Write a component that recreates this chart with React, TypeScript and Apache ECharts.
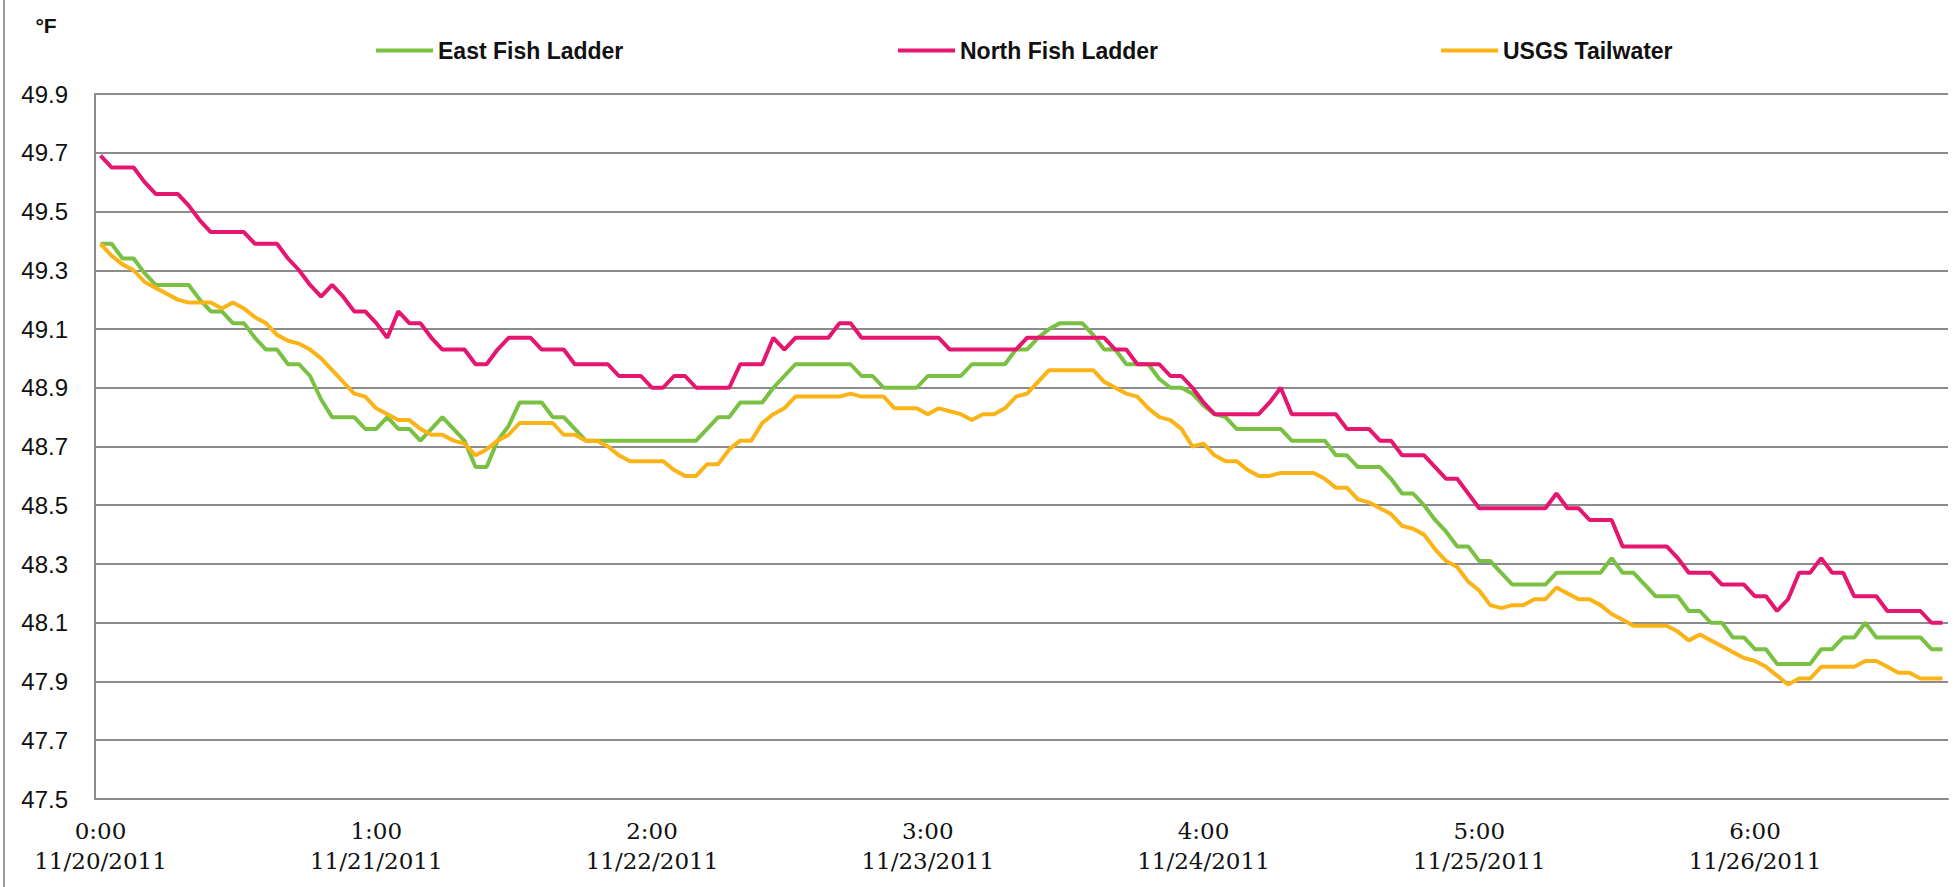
import React, { useEffect, useRef } from "react";
import * as echarts from "echarts";

const seriesNames = ["East Fish Ladder", "North Fish Ladder", "USGS Tailwater"];

const eastFishLadder = [
  49.39, 49.39, 49.34, 49.34, 49.29, 49.25, 49.25, 49.25, 49.25, 49.20,
  49.16, 49.16, 49.12, 49.12, 49.07, 49.03, 49.03, 48.98, 48.98, 48.94,
  48.86, 48.80, 48.80, 48.80, 48.76, 48.76, 48.80, 48.76, 48.76, 48.72,
  48.76, 48.80, 48.76, 48.72, 48.63, 48.63, 48.72, 48.77, 48.85, 48.85,
  48.85, 48.80, 48.80, 48.76, 48.72, 48.72, 48.72, 48.72, 48.72, 48.72,
  48.72, 48.72, 48.72, 48.72, 48.72, 48.76, 48.80, 48.80, 48.85, 48.85,
  48.85, 48.90, 48.94, 48.98, 48.98, 48.98, 48.98, 48.98, 48.98, 48.94,
  48.94, 48.90, 48.90, 48.90, 48.90, 48.94, 48.94, 48.94, 48.94, 48.98,
  48.98, 48.98, 48.98, 49.03, 49.03, 49.07, 49.10, 49.12, 49.12, 49.12,
  49.08, 49.03, 49.03, 48.98, 48.98, 48.98, 48.93, 48.90, 48.90, 48.88,
  48.84, 48.81, 48.80, 48.76, 48.76, 48.76, 48.76, 48.76, 48.72, 48.72,
  48.72, 48.72, 48.67, 48.67, 48.63, 48.63, 48.63, 48.59, 48.54, 48.54,
  48.50, 48.45, 48.41, 48.36, 48.36, 48.31, 48.31, 48.27, 48.23, 48.23,
  48.23, 48.23, 48.27, 48.27, 48.27, 48.27, 48.27, 48.32, 48.27, 48.27,
  48.23, 48.19, 48.19, 48.19, 48.14, 48.14, 48.10, 48.10, 48.05, 48.05,
  48.01, 48.01, 47.96, 47.96, 47.96, 47.96, 48.01, 48.01, 48.05, 48.05,
  48.10, 48.05, 48.05, 48.05, 48.05, 48.05, 48.01, 48.01,
];

const northFishLadder = [
  49.69, 49.65, 49.65, 49.65, 49.60, 49.56, 49.56, 49.56, 49.52, 49.47,
  49.43, 49.43, 49.43, 49.43, 49.39, 49.39, 49.39, 49.34, 49.30, 49.25,
  49.21, 49.25, 49.21, 49.16, 49.16, 49.12, 49.07, 49.16, 49.12, 49.12,
  49.07, 49.03, 49.03, 49.03, 48.98, 48.98, 49.03, 49.07, 49.07, 49.07,
  49.03, 49.03, 49.03, 48.98, 48.98, 48.98, 48.98, 48.94, 48.94, 48.94,
  48.90, 48.90, 48.94, 48.94, 48.90, 48.90, 48.90, 48.90, 48.98, 48.98,
  48.98, 49.07, 49.03, 49.07, 49.07, 49.07, 49.07, 49.12, 49.12, 49.07,
  49.07, 49.07, 49.07, 49.07, 49.07, 49.07, 49.07, 49.03, 49.03, 49.03,
  49.03, 49.03, 49.03, 49.03, 49.07, 49.07, 49.07, 49.07, 49.07, 49.07,
  49.07, 49.07, 49.03, 49.03, 48.98, 48.98, 48.98, 48.94, 48.94, 48.90,
  48.85, 48.81, 48.81, 48.81, 48.81, 48.81, 48.85, 48.90, 48.81, 48.81,
  48.81, 48.81, 48.81, 48.76, 48.76, 48.76, 48.72, 48.72, 48.67, 48.67,
  48.67, 48.63, 48.59, 48.59, 48.54, 48.49, 48.49, 48.49, 48.49, 48.49,
  48.49, 48.49, 48.54, 48.49, 48.49, 48.45, 48.45, 48.45, 48.36, 48.36,
  48.36, 48.36, 48.36, 48.32, 48.27, 48.27, 48.27, 48.23, 48.23, 48.23,
  48.19, 48.19, 48.14, 48.18, 48.27, 48.27, 48.32, 48.27, 48.27, 48.19,
  48.19, 48.19, 48.14, 48.14, 48.14, 48.14, 48.10, 48.10,
];

const usgsTailwater = [
  49.39, 49.35, 49.32, 49.30, 49.26, 49.24, 49.22, 49.20, 49.19, 49.19,
  49.19, 49.17, 49.19, 49.17, 49.14, 49.12, 49.08, 49.06, 49.05, 49.03,
  49.00, 48.96, 48.92, 48.88, 48.87, 48.83, 48.81, 48.79, 48.79, 48.76,
  48.74, 48.74, 48.72, 48.71, 48.67, 48.69, 48.72, 48.74, 48.78, 48.78,
  48.78, 48.78, 48.74, 48.74, 48.72, 48.72, 48.70, 48.67, 48.65, 48.65,
  48.65, 48.65, 48.62, 48.60, 48.60, 48.64, 48.64, 48.69, 48.72, 48.72,
  48.78, 48.81, 48.83, 48.87, 48.87, 48.87, 48.87, 48.87, 48.88, 48.87,
  48.87, 48.87, 48.83, 48.83, 48.83, 48.81, 48.83, 48.82, 48.81, 48.79,
  48.81, 48.81, 48.83, 48.87, 48.88, 48.92, 48.96, 48.96, 48.96, 48.96,
  48.96, 48.92, 48.90, 48.88, 48.87, 48.83, 48.80, 48.79, 48.76, 48.70,
  48.71, 48.67, 48.65, 48.65, 48.62, 48.60, 48.60, 48.61, 48.61, 48.61,
  48.61, 48.59, 48.56, 48.56, 48.52, 48.51, 48.49, 48.47, 48.43, 48.42,
  48.40, 48.35, 48.31, 48.29, 48.24, 48.21, 48.16, 48.15, 48.16, 48.16,
  48.18, 48.18, 48.22, 48.20, 48.18, 48.18, 48.16, 48.13, 48.11, 48.09,
  48.09, 48.09, 48.09, 48.07, 48.04, 48.06, 48.04, 48.02, 48.00, 47.98,
  47.97, 47.95, 47.92, 47.89, 47.91, 47.91, 47.95, 47.95, 47.95, 47.95,
  47.97, 47.97, 47.95, 47.93, 47.93, 47.91, 47.91, 47.91,
];

// hourly categories, 11/20/2011 0:00 .. 11/26/2011 23:00
const startDay = 20;
const hourCount = 168;
const categories: string[] = [];
for (let i = 0; i < hourCount; i++) {
  const day = startDay + Math.floor(i / 24);
  const hour = i % 24;
  categories.push(`${hour}:00\n11/${day}/2011`);
}

const yMin = 47.5;
const yMax = 49.9;
const yStep = 0.2;
const unitLabel = "°F";

const colors = ["#7ac143", "#e5166f", "#fbb417"];

export default function App() {
  const ref = useRef<HTMLDivElement>(null);
  useEffect(() => {
    if (!ref.current) return;
    const chart = echarts.init(ref.current, null, { renderer: "svg" });
    const values = [eastFishLadder, northFishLadder, usgsTailwater];
    const legendLefts = [371, 893, 1436];
    chart.setOption({
      animation: false,
      backgroundColor: "#ffffff",
      color: colors,
      grid: { left: 95, right: 8, top: 94, bottom: 88, containLabel: false },
      legend: seriesNames.map((name, k) => ({
        data: [name],
        left: legendLefts[k],
        top: 34,
        icon: "rect",
        itemWidth: 57,
        itemHeight: 4,
        itemGap: 5,
        selectedMode: false,
        textStyle: {
          fontFamily: "Liberation Sans",
          fontWeight: "bold",
          fontSize: 23,
          color: "#111",
          padding: [0, 0, 0, 0],
        },
      })),
      graphic: [
        {
          type: "line",
          shape: { x1: 4, y1: 0, x2: 4, y2: 887 },
          style: { stroke: "#9a9a9a", lineWidth: 2 },
        },
        {
          type: "text",
          x: 46,
          y: 25,
          style: {
            text: unitLabel,
            fontFamily: "Liberation Sans",
            fontWeight: "bold",
            fontSize: 21,
            fill: "#111",
            align: "center",
            verticalAlign: "middle",
          },
        },
      ],
      xAxis: {
        type: "category",
        data: categories,
        boundaryGap: true,
        axisLine: { show: true, lineStyle: { color: "#8c8c8c", width: 2 } },
        axisTick: { show: false },
        axisLabel: {
          interval: 24,
          margin: 17,
          fontFamily: "DejaVu Serif",
          fontSize: 23,
          lineHeight: 30,
          color: "#111",
        },
        splitLine: { show: false },
      },
      yAxis: {
        type: "value",
        min: yMin,
        max: yMax,
        interval: yStep,
        axisLine: { show: true, lineStyle: { color: "#8c8c8c", width: 2 } },
        axisTick: { show: false },
        axisLabel: {
          margin: 27,
          fontFamily: "Liberation Sans",
          fontSize: 24,
          color: "#111",
          formatter: (v: number) => v.toFixed(1),
        },
        splitLine: { show: true, lineStyle: { color: "#8c8c8c", width: 2 } },
      },
      series: seriesNames.map((name, k) => ({
        name,
        type: "line",
        data: values[k],
        symbol: "none",
        showSymbol: false,
        lineStyle: { width: 4, color: colors[k] },
        itemStyle: { color: colors[k] },
        emphasis: { disabled: true },
      })),
    });
    return () => chart.dispose();
  }, []);
  return (
    <div
      ref={ref}
      style={{ position: "absolute", left: 0, top: 0, width: 1956, height: 887 }}
    />
  );
}
